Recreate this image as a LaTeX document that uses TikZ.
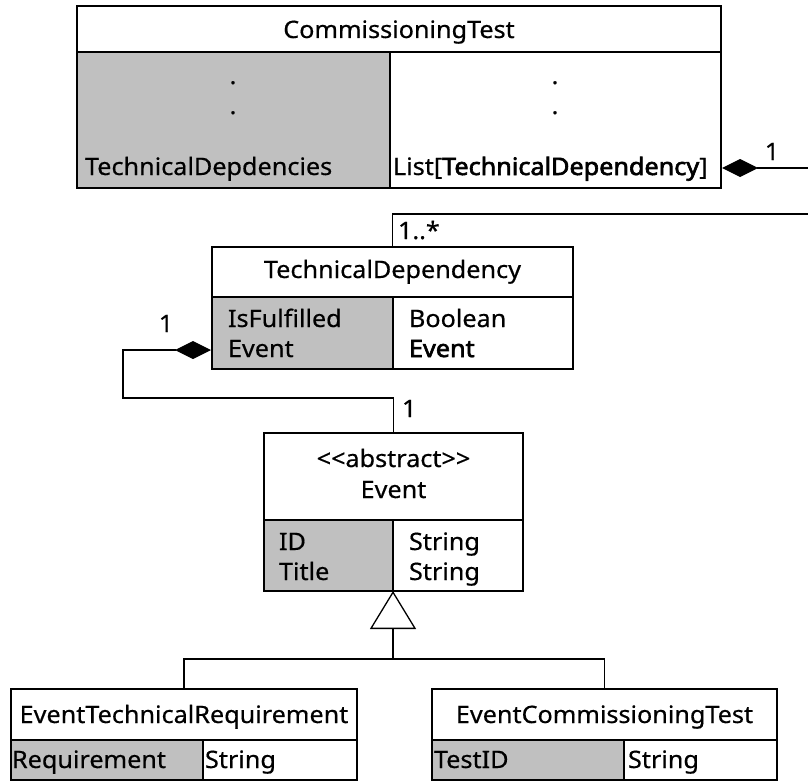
\documentclass[tikz,border=0pt]{standalone}
\usepackage{fontspec}
\setmainfont{Noto Sans}[FakeStretch=1.05, FakeBold=0.5, BoldFont=Noto Sans, BoldFeatures={FakeBold=2.6}]
\usetikzlibrary{arrows.meta,calc}
\definecolor{attrgray}{HTML}{C0C0C0}
\tikzset{
  cell/.style={draw=black, line width=2.2pt, inner sep=0pt, outer sep=0pt, anchor=center},
  txt/.style={inner sep=0pt, outer sep=0pt, font=\fontsize{24}{30}\selectfont},
  link/.style={draw=black, line width=1.3pt},
  comp/.style={link, {Diamond[length=36pt,width=18pt]}-},
  gen/.style={link, -{Triangle[open,length=38pt,width=46pt,fill=white]}},
}
% \umlcell{name}{x1}{y1}{x2}{y2}{fill}
\newcommand\umlcell[6]{%
  \node[cell, fill=#6, minimum width={(#4-#2)*1pt}, minimum height={(#5-#3)*1pt}]
    (#1) at ({(#2+#4)/2},{(#3+#5)/2}) {};}
\begin{document}
\begin{tikzpicture}[x=1pt,y=-1pt]
\useasboundingbox (0,0) rectangle (808,781);
\clip (0,0) rectangle (808,781);

% CommissioningTest
\umlcell{ctT}{77}{6}{721}{52}{white}
\umlcell{ctL}{77}{52}{390}{188}{attrgray}
\umlcell{ctR}{390}{52}{721}{188}{white}
% TechnicalDependency
\umlcell{tdT}{212}{247}{573}{297}{white}
\umlcell{tdL}{212}{297}{393}{369}{attrgray}
\umlcell{tdR}{393}{297}{573}{369}{white}
% Event
\umlcell{evT}{264}{433}{523}{520}{white}
\umlcell{evL}{264}{520}{393}{591}{attrgray}
\umlcell{evR}{393}{520}{523}{591}{white}
% EventTechnicalRequirement
\umlcell{etrT}{11}{689}{357}{740}{white}
\umlcell{etrL}{11}{740}{203}{780}{attrgray}
\umlcell{etrR}{203}{740}{357}{780}{white}
% EventCommissioningTest
\umlcell{ectT}{432}{689}{777}{740}{white}
\umlcell{ectL}{432}{740}{624}{780}{attrgray}
\umlcell{ectR}{624}{740}{777}{780}{white}

% connectors
\draw[comp] ([xshift=1pt,yshift=20pt]ctR.south east) -- (830,168) -- (830,214) -| (tdT.north);
\draw[comp] ([xshift=-1pt,yshift=19pt]tdL.south west) -| (123,398) -| (evT.north);
\coordinate (genjoin) at (393,659);
\draw[link] (etrT.north) |- (genjoin) -| (ectT.north);
\draw[gen] (genjoin) -- (evL.south east);

% multiplicities
\node[txt, anchor=base] (m1) at (772,160) {1};
\node[txt, anchor=base west] (m2) at (398,239) {1..*};
\node[txt, anchor=base] (m3) at (166,332) {1};
\node[txt, anchor=base west] (m4) at (402,417) {1};

% CommissioningTest texts
\node[txt, anchor=base] (ctname) at (399,38) {CommissioningTest};
\node[txt, anchor=base] (ctd1) at (233,84) {.};
\node[txt, anchor=base] (ctd2) at (233,114) {.};
\node[txt, anchor=base] (ctd3) at (555,84) {.};
\node[txt, anchor=base] (ctd4) at (555,114) {.};
\node[txt, anchor=base west] (cta) at (85,175) {TechnicalDepdencies};
\node[txt, anchor=base west] (ctb) at (393,175) {List[\textbf{TechnicalDependency}]};

% TechnicalDependency texts
\node[txt, anchor=base] (tdname) at (392.5,278) {TechnicalDependency};
\node[txt, anchor=base west] (tda1) at (228,327) {IsFulfilled};
\node[txt, anchor=base west] (tda2) at (228,357) {Event};
\node[txt, anchor=base west] (tdb1) at (409,327) {Boolean};
\node[txt, anchor=base west] (tdb2) at (409,357) {\textbf{Event}};

% Event texts
\node[txt, anchor=base] (evst) at (393.5,467) {<\kern0pt<abstract>\kern0pt>};
\node[txt, anchor=base] (evname) at (393.5,498) {Event};
\node[txt, anchor=base west] (eva1) at (279,550) {ID};
\node[txt, anchor=base west] (eva2) at (279,580) {Title};
\node[txt, anchor=base west] (evb1) at (409,550) {String};
\node[txt, anchor=base west] (evb2) at (409,580) {String};

% subclasses texts
\node[txt, anchor=base] (etrname) at (184,723) {EventTechnicalRequirement};
\node[txt, anchor=base west] (etra) at (12,768) {Requirement};
\node[txt, anchor=base west] (etrb) at (205,768) {String};
\node[txt, anchor=base] (ectname) at (604.5,723) {EventCommissioningTest};
\node[txt, anchor=base west] (ecta) at (434,768) {TestID};
\node[txt, anchor=base west] (ectb) at (628,768) {String};
\end{tikzpicture}
\end{document}
